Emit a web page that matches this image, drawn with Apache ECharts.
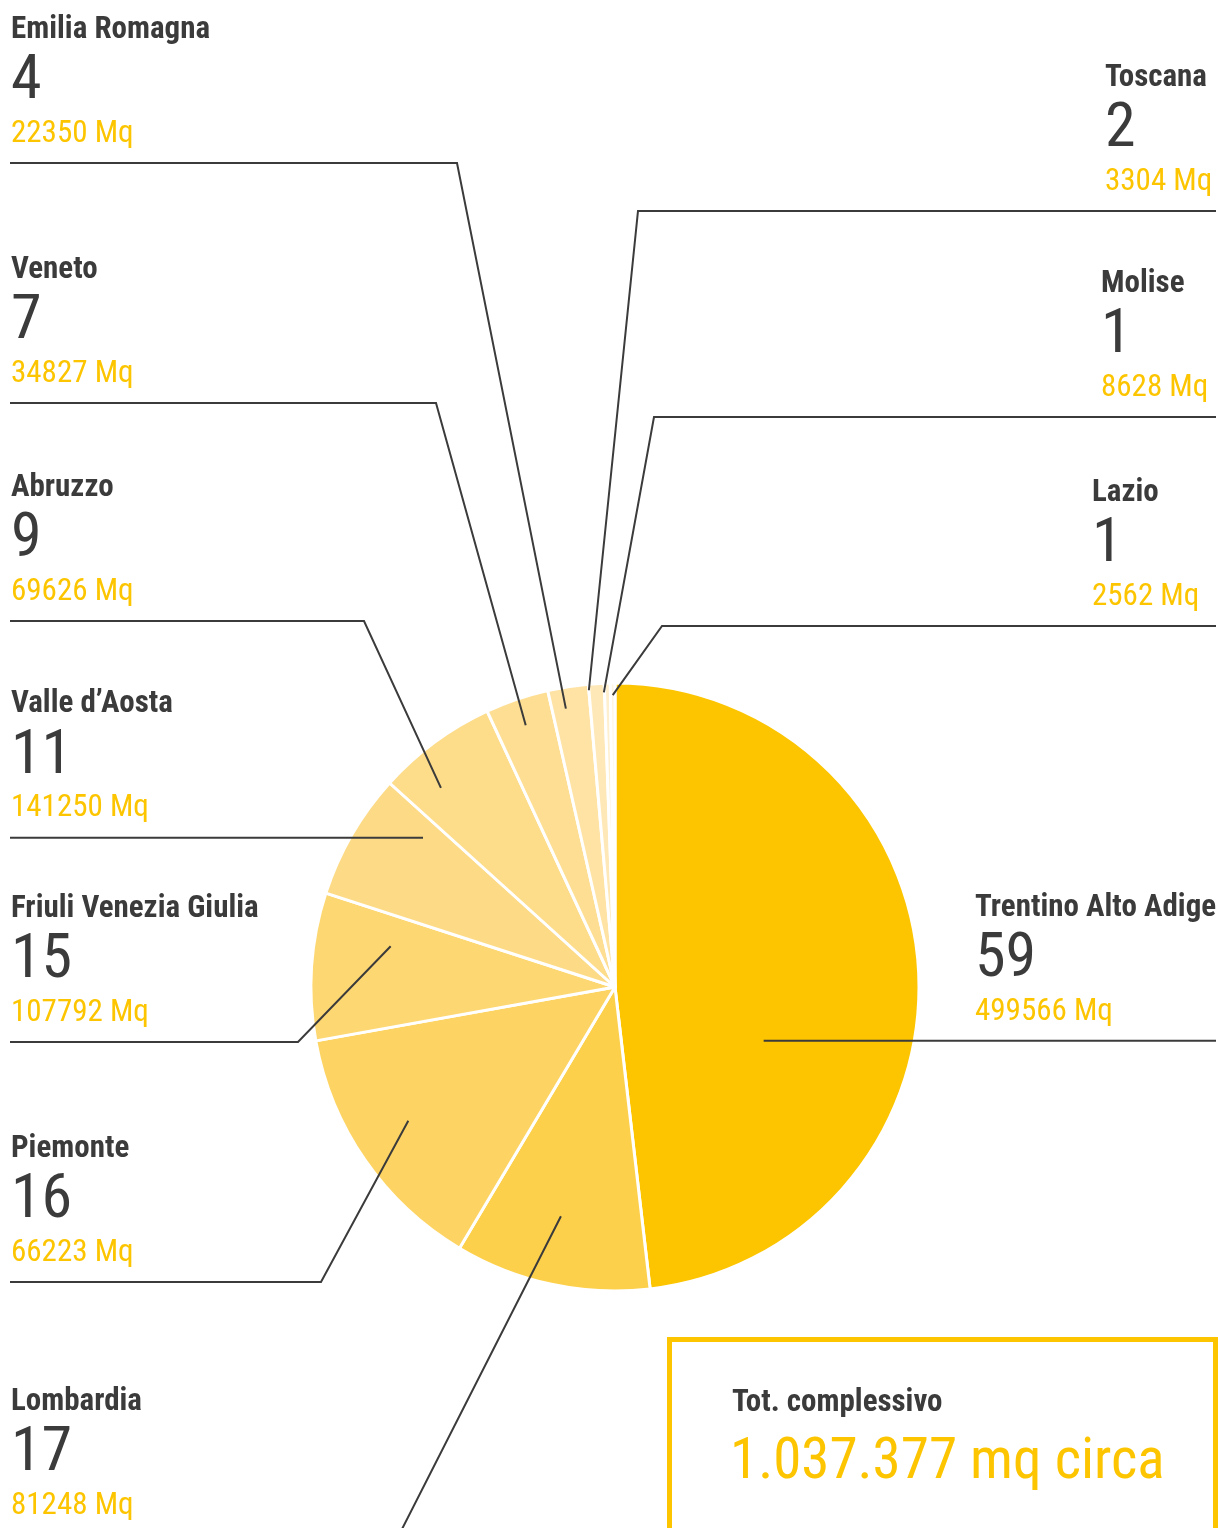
<!DOCTYPE html>
<html>
<head>
<meta charset="utf-8">
<title>Superficie per regione</title>
<script src="https://cdn.jsdelivr.net/npm/echarts@6/dist/echarts.min.js"></script>
<style>
    html, body { margin: 0; padding: 0; background: #fff; }
    #pie-chart { width: 1218px; height: 1528px; }
</style>
</head>
<body>
<div id="pie-chart"></div>
<script>
// etichette nell'ordine in cui stanno intorno alla torta (senso orario dall'alto)
const regioni = ['Trentino Alto Adige', 'Lombardia', 'Piemonte', 'Friuli Venezia Giulia', 'Valle d’Aosta',
    'Abruzzo', 'Veneto', 'Emilia Romagna', 'Toscana', 'Molise', 'Lazio'];
const strutture = [59, 17, 16, 15, 11, 9, 7, 4, 2, 1, 1];
const mqRegione = [499566, 81248, 66223, 107792, 141250, 69626, 34827, 22350, 3304, 8628, 2562];
// ampiezza delle fette così come sono disegnate
const mqFetta = [499566, 107792, 141250, 81248, 69626, 66223, 34827, 22350, 8628, 3304, 2562];
const totale = '1.037.377 mq circa';

const colori = ['#FCC500', '#FDD04C', '#FDD463', '#FDD772', '#FDDB86', '#FDDC8A',
    '#FDDE92', '#FEE3A5', '#FEE8B7', '#FEEFCE', '#FFF5E3'];

const FONT = "'Roboto Condensed','Liberation Sans Narrow','Arial Narrow','DejaVu Sans Condensed',Roboto,sans-serif";
const GRIGIO = '#3b3b3b';
const GIALLO = '#FCC500';

// impaginazione delle etichette
const centro = [615, 987];
const raggio = 304;
const etichettaX = [975, 11, 11, 11, 11, 11, 11, 11, 1105, 1101, 1092];
const lineaY = [1040, 1535, 1282, 1042, 836, 621, 403, 163, 211, 417, 626];
const gomitoX = [null, 399, 321, 298, null, 364, 436, 457, 638, 654, 662];
const spostamento = [23.2, 1.2, 1.8, 6.4, 7.8, -4.8, 0, -1.1, -1.5, -0.7, 0];
const profondita = [0.52, 0.775, 0.81, 0.75, 0.80, 0.87, 0.91, 0.93, 0.98, 0.97, 0.96];

const dati = mqFetta.map(function (v, i) {
    return { name: regioni[i], value: v };
});

let myChart = echarts.init(document.getElementById('pie-chart'));

myChart.setOption({
    animation: false,
    color: colori,
    series: [
        // fette
        {
            type: 'pie',
            z: 2,
            center: centro,
            radius: raggio,
            startAngle: 90,
            clockwise: true,
            silent: true,
            emphasis: { disabled: true },
            itemStyle: { borderColor: '#fff', borderWidth: 3 },
            label: { show: false },
            labelLine: { show: false },
            data: dati
        },
        // stessa torta trasparente, sopra, solo per etichette e linee guida
        {
            type: 'pie',
            z: 5,
            center: centro,
            radius: raggio,
            startAngle: 90,
            clockwise: true,
            silent: true,
            avoidLabelOverlap: false,
            emphasis: { disabled: true },
            itemStyle: { color: 'rgba(0,0,0,0)', borderWidth: 0 },
            data: dati,
            label: {
                show: true,
                position: 'outside',
                fontFamily: FONT,
                formatter: function (p) {
                    const i = p.dataIndex;
                    return '{n|' + regioni[i] + '}\n{c|' + strutture[i] + '}\n{m|' + mqRegione[i] + ' Mq}';
                },
                rich: {
                    n: { fontFamily: FONT, fontSize: 31, fontWeight: 'bold', color: GRIGIO, lineHeight: 56 },
                    c: { fontFamily: FONT, fontSize: 62, color: GRIGIO, lineHeight: 49 },
                    m: { fontFamily: FONT, fontSize: 31, color: GIALLO, lineHeight: 54 }
                }
            },
            labelLine: {
                show: true,
                smooth: false,
                length: 10,
                length2: 10,
                lineStyle: { color: GRIGIO, width: 2 }
            },
            labelLayout: function (params) {
                const i = params.dataIndex;
                const p0 = params.labelLinePoints[0];
                const mid = Math.atan2(p0[0] - centro[0], centro[1] - p0[1]);
                const ang = mid + spostamento[i] * Math.PI / 180;
                const rr = raggio * profondita[i];
                const inizio = [centro[0] + rr * Math.sin(ang), centro[1] - rr * Math.cos(ang)];
                const destra = etichettaX[i] > centro[0];
                const y = gomitoX[i] == null ? inizio[1] : lineaY[i];
                const gomito = [gomitoX[i] == null ? inizio[0] : gomitoX[i], y];
                const fine = [destra ? 1216 : 10, y];
                return {
                    x: etichettaX[i],
                    y: y - 2,
                    align: 'left',
                    verticalAlign: 'bottom',
                    labelLinePoints: [inizio, gomito, fine]
                };
            }
        }
    ],
    graphic: [
        {
            type: 'rect',
            shape: { x: 669.5, y: 1339.5, width: 546, height: 300 },
            style: { fill: 'none', stroke: GIALLO, lineWidth: 5 }
        },
        {
            type: 'text',
            x: 732,
            y: 1403,
            style: {
                text: 'Tot. complessivo',
                fontFamily: FONT, fontSize: 31, fontWeight: 'bold',
                fill: GRIGIO, verticalAlign: 'middle'
            }
        },
        {
            type: 'text',
            x: 730,
            y: 1464,
            style: {
                text: totale,
                fontFamily: FONT, fontSize: 57,
                fill: GIALLO, verticalAlign: 'middle'
            }
        }
    ]
});
</script>
</body>
</html>
